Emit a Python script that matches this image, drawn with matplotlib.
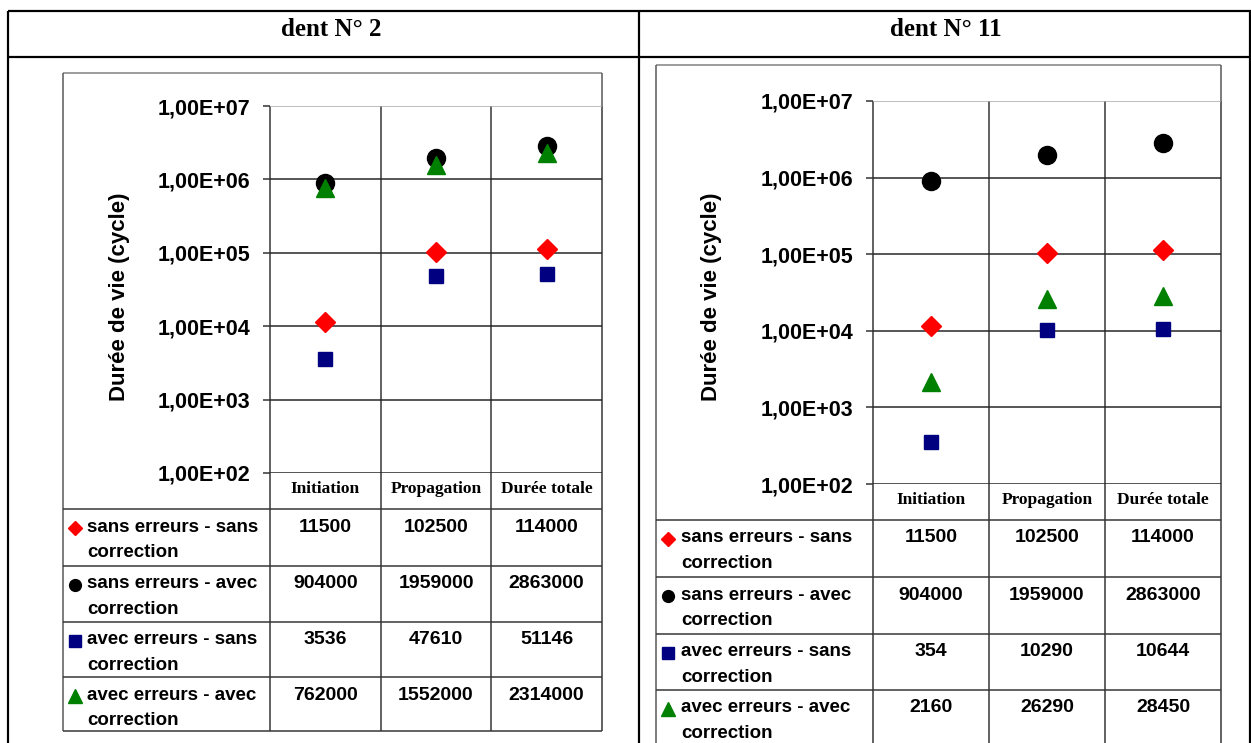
import matplotlib
matplotlib.use("Agg")
import matplotlib.pyplot as plt

W, H = 1251, 743

titles = ["dent N° 2", "dent N° 11"]
categories = ["Initiation", "Propagation", "Durée totale"]
series_labels = [["sans erreurs - sans", "correction"],
                 ["sans erreurs - avec", "correction"],
                 ["avec erreurs - sans", "correction"],
                 ["avec erreurs - avec", "correction"]]
y_label = "Durée de vie (cycle)"
y_ticks = [1e2, 1e3, 1e4, 1e5, 1e6, 1e7]

dent2_sans_sans = [11500, 102500, 114000]
dent2_sans_avec = [904000, 1959000, 2863000]
dent2_avec_sans = [3536, 47610, 51146]
dent2_avec_avec = [762000, 1552000, 2314000]

dent11_sans_sans = [11500, 102500, 114000]
dent11_sans_avec = [904000, 1959000, 2863000]
dent11_avec_sans = [354, 10290, 10644]
dent11_avec_avec = [2160, 26290, 28450]

panels_data = [
    [dent2_sans_sans, dent2_sans_avec, dent2_avec_sans, dent2_avec_avec],
    [dent11_sans_sans, dent11_sans_avec, dent11_avec_sans, dent11_avec_avec],
]

# marker styles (marker, color, size in plot, size in table)
styles = [("D", "#FF0000", 10.5, 7.5),
          ("o", "#000000", 13, 8.5),
          ("s", "#000080", 9.5, 8),
          ("^", "#008000", 13, 10)]

SANS = "Liberation Sans"
SERIF = "Liberation Serif"

# layout in pixel coordinates
layouts = [
    dict(title_x=331, frame_l=63, frame_t=73, frame_r=602,
         x0=270, x1=602, y_top=106, y_bot=473,
         lab_r=250, ylab_x=120, ylab_y=297, cat_y=489,
         rows=[509, 566, 622, 677, 731], mk_x=75, txt_x=87),
    dict(title_x=946, frame_l=656, frame_t=65, frame_r=1221,
         x0=873, x1=1221, y_top=101, y_bot=484,
         lab_r=853, ylab_x=712, ylab_y=297, cat_y=500,
         rows=[520, 577, 634, 690, 747], mk_x=668, txt_x=681),
]

fig = plt.figure(figsize=(W / 100, H / 100), dpi=100)
bg = fig.add_axes([0, 0, 1, 1])
bg.set_xlim(0, W)
bg.set_ylim(H, 0)
bg.axis("off")

PX = 0.72  # points per pixel


def hline(y, xa, xb, color="#000000", lw=1.5):
    bg.plot([xa, xb], [y, y], color=color, lw=lw * PX, solid_capstyle="butt", zorder=2)


def vline(x, ya, yb, color="#000000", lw=1.5):
    bg.plot([x, x], [ya, yb], color=color, lw=lw * PX, solid_capstyle="butt", zorder=2)


# outer table
hline(11, 8, W, lw=2.2)
hline(57, 8, W, lw=2.2)
vline(8, 11, H, lw=2.2)
vline(639, 11, H, lw=2.2)
vline(W - 1, 11, H, lw=2.2)

for p, (L, data) in enumerate(zip(layouts, panels_data)):
    bg.text(L["title_x"], 30, titles[p], ha="center", va="center",
            fontfamily=SERIF, fontweight="bold", fontsize=18)

    rows = L["rows"]
    # chart frame
    hline(L["frame_t"], L["frame_l"], L["frame_r"], color="#7f7f7f", lw=1.5)
    vline(L["frame_l"], L["frame_t"], rows[-1], color="#555555", lw=1.5)
    vline(L["frame_r"], L["frame_t"], L["y_top"], color="#555555", lw=1.5)

    # column boundaries (extend into table)
    colw = (L["x1"] - L["x0"]) / 3
    for i in range(4):
        vline(L["x0"] + i * colw, L["y_top"], rows[-1], color="#333333", lw=1.5)
    # table horizontal lines
    for r in rows:
        hline(r, L["frame_l"], L["x1"], color="#333333", lw=1.5)

    # category labels
    for i, c in enumerate(categories):
        bg.text(L["x0"] + (i + 0.5) * colw, L["cat_y"], c, ha="center", va="center",
                fontfamily=SERIF, fontweight="bold", fontsize=12.5)

    # table contents
    for s, (vals, lab, st) in enumerate(zip(data, series_labels, styles)):
        rt = rows[s]
        bg.plot([L["mk_x"]], [rt + 19], marker=st[0], color=st[1], ms=st[3],
                linestyle="none", zorder=3)
        for k, line in enumerate(lab):
            bg.text(L["txt_x"], rt + 18 + 25.5 * k, line, ha="left", va="center",
                    fontfamily=SANS, fontweight="bold", fontsize=13.5)
        for i, v in enumerate(vals):
            bg.text(L["x0"] + (i + 0.5) * colw, rt + 18, f"{v}", ha="center",
                    va="center", fontfamily=SANS, fontweight="bold", fontsize=14)

    bg.text(L["ylab_x"], L["ylab_y"], y_label, rotation=90, ha="center", va="center",
            fontfamily=SANS, fontweight="bold", fontsize=16)

    # plot axes
    ax = fig.add_axes([L["x0"] / W, 1 - L["y_bot"] / H,
                       (L["x1"] - L["x0"]) / W, (L["y_bot"] - L["y_top"]) / H])
    ax.patch.set_alpha(0)
    ax.set_yscale("log")
    ax.set_ylim(y_ticks[0], y_ticks[-1])
    ax.set_xlim(0, 3)
    for sp in ax.spines.values():
        sp.set_visible(False)
    ax.set_xticks([])
    ax.set_yticks(y_ticks)
    ax.yaxis.set_minor_locator(matplotlib.ticker.NullLocator())
    ax.set_yticklabels([f"{t:.2E}".replace(".", ",") for t in y_ticks],
                       fontfamily=SANS, fontweight="bold", fontsize=15.5)
    ax.tick_params(axis="y", length=5, width=1.1, color="#333333",
                   pad=(L["x0"] - L["lab_r"]) * PX - 5)
    for t in y_ticks:
        col = "#aaaaaa" if t == y_ticks[-1] else "#222222"
        ax.axhline(t, color=col, lw=1.5 * PX, zorder=1)
    xs = [0.5, 1.5, 2.5]
    for vals, st in zip(data, styles):
        ax.plot(xs, vals, marker=st[0], color=st[1], ms=st[2], linestyle="none",
                zorder=3, clip_on=False)

fig.savefig("out.png", dpi=100)
